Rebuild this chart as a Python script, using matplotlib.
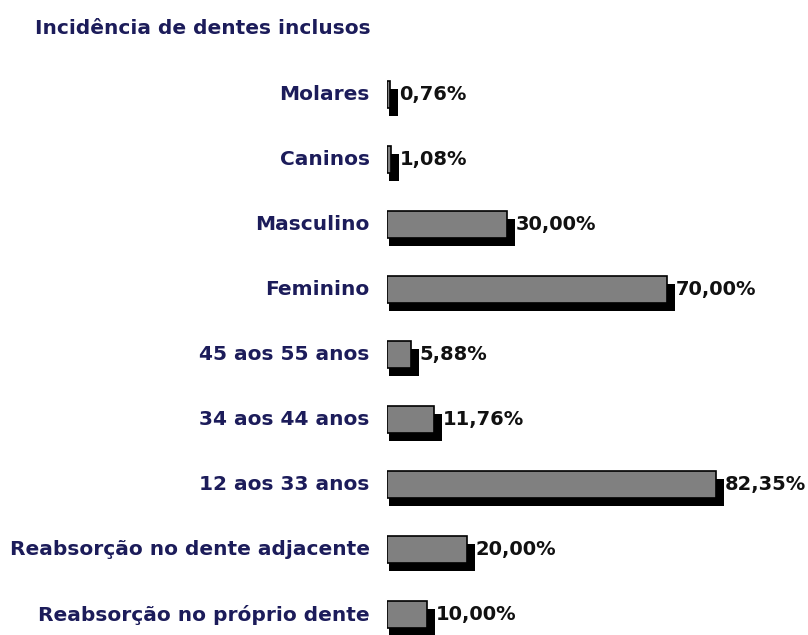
import matplotlib.pyplot as plt

# Data (top to bottom)
categories = ['Molares', 'Caninos', 'Masculino', 'Feminino', '45 aos 55 anos',
              '34 aos 44 anos', '12 aos 33 anos', 'Reabsorção no dente adjacente',
              'Reabsorção no próprio dente']
values = [0.76, 1.08, 30.00, 70.00, 5.88, 11.76, 82.35, 20.00, 10.00]
title = 'Incidência de dentes inclusos'

navy = '#1c1c5a'
plt.rcParams['font.family'] = ['DejaVu Sans']

fig = plt.figure(figsize=(8.08, 6.35), dpi=100)
# axes spans pixel x 387..808, y 60..635 (4 px per percent)
ax = fig.add_axes([387 / 808, 0, 421 / 808, 575 / 635])
ax.set_xlim(0, 421 / 4)
ax.set_ylim((635 - 95) / 65, -(95 - 60) / 65)
ax.axis('off')

ypos = list(range(len(categories)))
bar_h = 27 / 65
dy = 8 / 65

# shadow first, then gray bar on top
ax.barh([y + dy for y in ypos], [v + 1.5 for v in values], left=0.5, height=bar_h,
        color='black', edgecolor='black', linewidth=0)
ax.barh(ypos, values, height=bar_h, color='#808080', edgecolor='black', linewidth=1.2)

for y, cat, v in zip(ypos, categories, values):
    ax.text(-4.3, y, cat, ha='right', va='center', fontsize=14.5,
            fontweight='bold', color=navy, clip_on=False)
    ax.text(v + 2.2, y, f'{v:.2f}'.replace('.', ',') + '%', ha='left',
            va='center', fontsize=14, fontweight='bold', color='#111111', clip_on=False)

fig.text(35 / 808, 1 - 29 / 635, title, ha='left', va='center', fontsize=14.5,
         fontweight='bold', color=navy)

fig.savefig('out.png', dpi=100)
